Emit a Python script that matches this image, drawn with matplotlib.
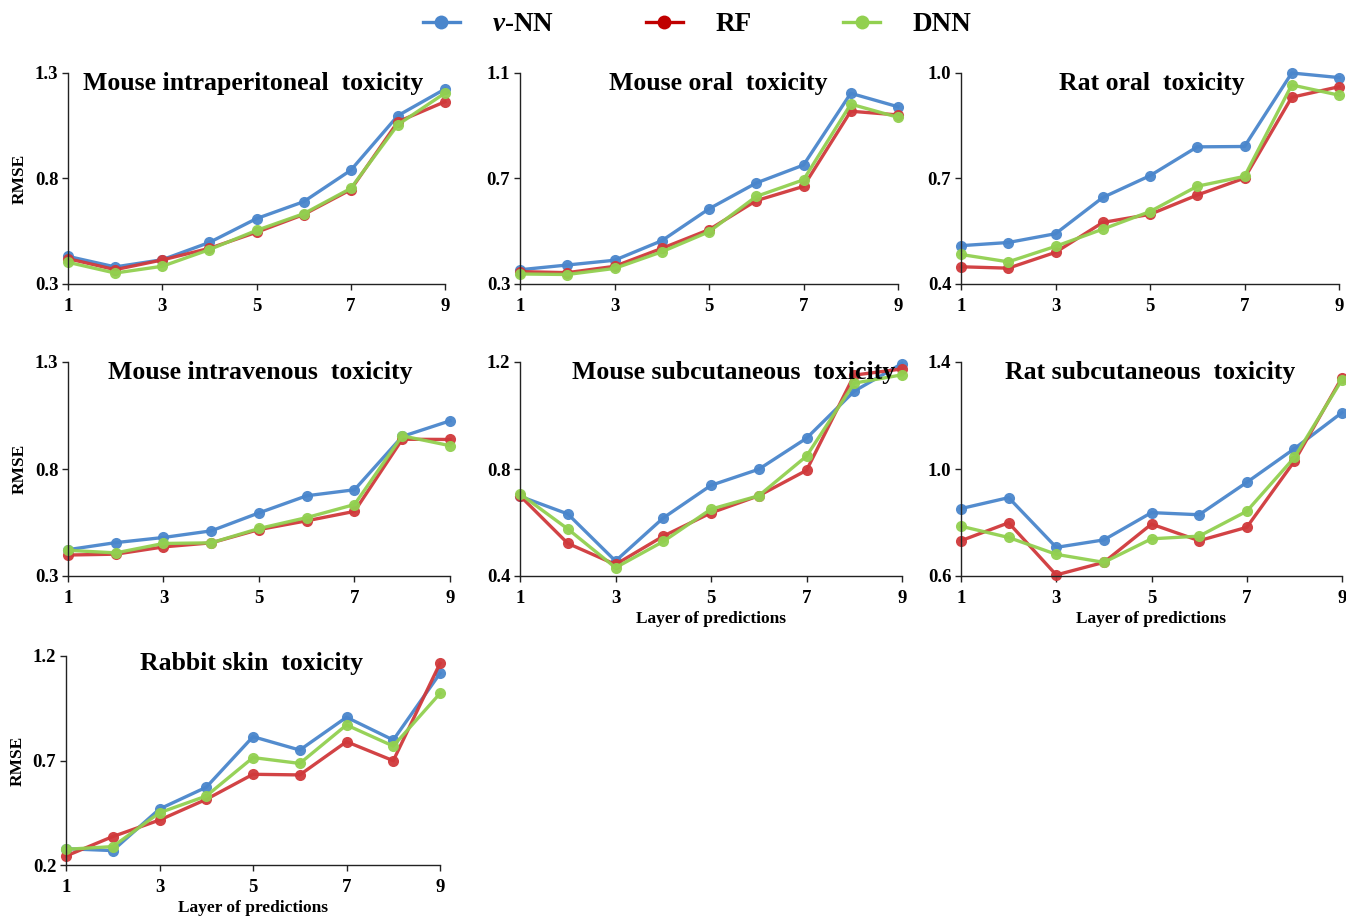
import matplotlib
matplotlib.use("Agg")
import matplotlib.pyplot as plt
from matplotlib.lines import Line2D

plt.rcParams['font.family'] = ['Liberation Serif', 'DejaVu Serif']
plt.rcParams['font.weight'] = 'bold'
plt.rcParams['mathtext.fontset'] = 'custom'
plt.rcParams['mathtext.it'] = 'Liberation Serif:bold:italic'
plt.rcParams['mathtext.rm'] = 'Liberation Serif:bold'

layers = [1, 2, 3, 4, 5, 6, 7, 8, 9]
series_names = ['$v$-NN', 'RF', 'DNN']

titles = ['Mouse intraperitoneal  toxicity', 'Mouse oral  toxicity', 'Rat oral  toxicity',
          'Mouse intravenous  toxicity', 'Mouse subcutaneous  toxicity', 'Rat subcutaneous  toxicity',
          'Rabbit skin  toxicity']

# Mouse intraperitoneal
ip_vnn = [0.431, 0.381, 0.415, 0.497, 0.610, 0.690, 0.839, 1.098, 1.224]
ip_rf = [0.420, 0.368, 0.414, 0.469, 0.545, 0.629, 0.747, 1.069, 1.164]
ip_dnn = [0.403, 0.352, 0.384, 0.463, 0.554, 0.633, 0.753, 1.055, 1.205]
# Mouse oral
mo_vnn = [0.354, 0.372, 0.390, 0.464, 0.585, 0.683, 0.751, 1.023, 0.972]
mo_rf = [0.347, 0.343, 0.367, 0.435, 0.506, 0.616, 0.670, 0.955, 0.941]
mo_dnn = [0.338, 0.336, 0.359, 0.422, 0.498, 0.632, 0.695, 0.982, 0.932]
# Rat oral
ro_vnn = [0.509, 0.518, 0.543, 0.646, 0.708, 0.790, 0.791, 1.000, 0.987]
ro_rf = [0.449, 0.445, 0.490, 0.575, 0.598, 0.653, 0.701, 0.931, 0.961]
ro_dnn = [0.484, 0.463, 0.507, 0.556, 0.606, 0.678, 0.706, 0.966, 0.937]
# Mouse intravenous
iv_vnn = [0.423, 0.456, 0.480, 0.511, 0.595, 0.675, 0.703, 0.952, 1.025]
iv_rf = [0.398, 0.402, 0.436, 0.455, 0.517, 0.558, 0.602, 0.939, 0.938]
iv_dnn = [0.420, 0.408, 0.452, 0.455, 0.522, 0.573, 0.634, 0.955, 0.909]
# Mouse subcutaneous
ms_vnn = [0.698, 0.632, 0.456, 0.617, 0.739, 0.799, 0.915, 1.091, 1.194]
ms_rf = [0.700, 0.522, 0.443, 0.549, 0.636, 0.700, 0.795, 1.151, 1.174]
ms_dnn = [0.707, 0.576, 0.431, 0.529, 0.650, 0.700, 0.848, 1.121, 1.152]
# Rat subcutaneous
rs_vnn = [0.852, 0.893, 0.707, 0.735, 0.837, 0.829, 0.950, 1.076, 1.211]
rs_rf = [0.732, 0.799, 0.604, 0.651, 0.794, 0.732, 0.782, 1.029, 1.342]
rs_dnn = [0.786, 0.744, 0.681, 0.651, 0.739, 0.749, 0.842, 1.043, 1.334]
# Rabbit skin
rb_vnn = [0.278, 0.269, 0.468, 0.572, 0.814, 0.750, 0.907, 0.798, 1.117]
rb_rf = [0.243, 0.336, 0.415, 0.514, 0.634, 0.631, 0.790, 0.699, 1.165]
rb_dnn = [0.275, 0.288, 0.450, 0.530, 0.714, 0.686, 0.870, 0.769, 1.021]

panel_data = [
    (ip_vnn, ip_rf, ip_dnn), (mo_vnn, mo_rf, mo_dnn), (ro_vnn, ro_rf, ro_dnn),
    (iv_vnn, iv_rf, iv_dnn), (ms_vnn, ms_rf, ms_dnn), (rs_vnn, rs_rf, rs_dnn),
    (rb_vnn, rb_rf, rb_dnn),
]
yticks = [[0.3, 0.8, 1.3], [0.3, 0.7, 1.1], [0.4, 0.7, 1.0],
          [0.3, 0.8, 1.3], [0.4, 0.8, 1.2], [0.6, 1.0, 1.4],
          [0.2, 0.7, 1.2]]
xtick_labels = [1, 3, 5, 7, 9]

line_colors = ['#4A86CC', '#D0393B', '#92D050']
legend_colors = ['#4A86CC', '#C00000', '#92D050']

W, H = 1346, 916
# axes pixel boxes: (left, right, top, bottom)
boxes = [(68, 445, 73, 284), (520, 898, 73, 284), (961, 1339, 73, 284),
         (68, 450, 362, 576), (520, 902, 362, 576), (961, 1342, 362, 576),
         (66, 440, 656, 865)]
title_pos = [(0.49, 0.95), (0.524, 0.95), (0.505, 0.95),
             (0.503, 0.953), (0.558, 0.953), (0.496, 0.953),
             (0.497, 0.966)]
show_ylabel = [True, False, False, True, False, False, True]
show_xlabel = [False, False, False, False, True, True, True]

fig = plt.figure(figsize=(W / 100, H / 100), dpi=100)

for i, (l, r, t, b) in enumerate(boxes):
    ax = fig.add_axes([l / W, 1 - b / H, (r - l) / W, (b - t) / H])
    for vals, c in zip(panel_data[i], line_colors):
        ax.plot(layers, vals, color=c, lw=2.4, marker='o', markersize=8,
                markeredgewidth=0, alpha=0.95, clip_on=False)
    ax.set_xlim(1, 9)
    ax.set_ylim(yticks[i][0], yticks[i][-1])
    ax.set_yticks(yticks[i])
    ax.set_yticklabels([f'{v:.1f}' for v in yticks[i]])
    ax.set_xticks(xtick_labels)
    ax.set_xticklabels([str(x) for x in xtick_labels])
    for s in ['top', 'right']:
        ax.spines[s].set_visible(False)
    for s in ['left', 'bottom']:
        ax.spines[s].set_color('#222222')
        ax.spines[s].set_linewidth(1.0)
    ax.tick_params(axis='both', direction='out', length=4, width=1,
                   labelsize=13.5, colors='#222222', labelcolor='black', pad=3)
    ax.tick_params(axis='x', pad=6)
    for lab in ax.get_xticklabels() + ax.get_yticklabels():
        lab.set_fontweight('bold')
    ax.text(title_pos[i][0], title_pos[i][1], titles[i], transform=ax.transAxes,
            ha='center', va='center', fontsize=18.5, fontweight='bold')
    if show_ylabel[i]:
        ax.set_ylabel('RMSE', fontsize=12.5, fontweight='bold', labelpad=5)
    if show_xlabel[i]:
        ax.set_xlabel('Layer of predictions', fontsize=12.5, fontweight='bold', labelpad=3)

handles = [Line2D([0], [0], color=c, lw=2.4, marker='o', markersize=10, markeredgewidth=0)
           for c in legend_colors]
fig.legend(handles, series_names, loc='center', bbox_to_anchor=(0.518, 0.973), ncol=3,
           frameon=False, handlelength=1.35, handletextpad=1.2,
           columnspacing=3.4, prop={'weight': 'bold', 'size': 19.5})

fig.savefig('out.png', dpi=100)
